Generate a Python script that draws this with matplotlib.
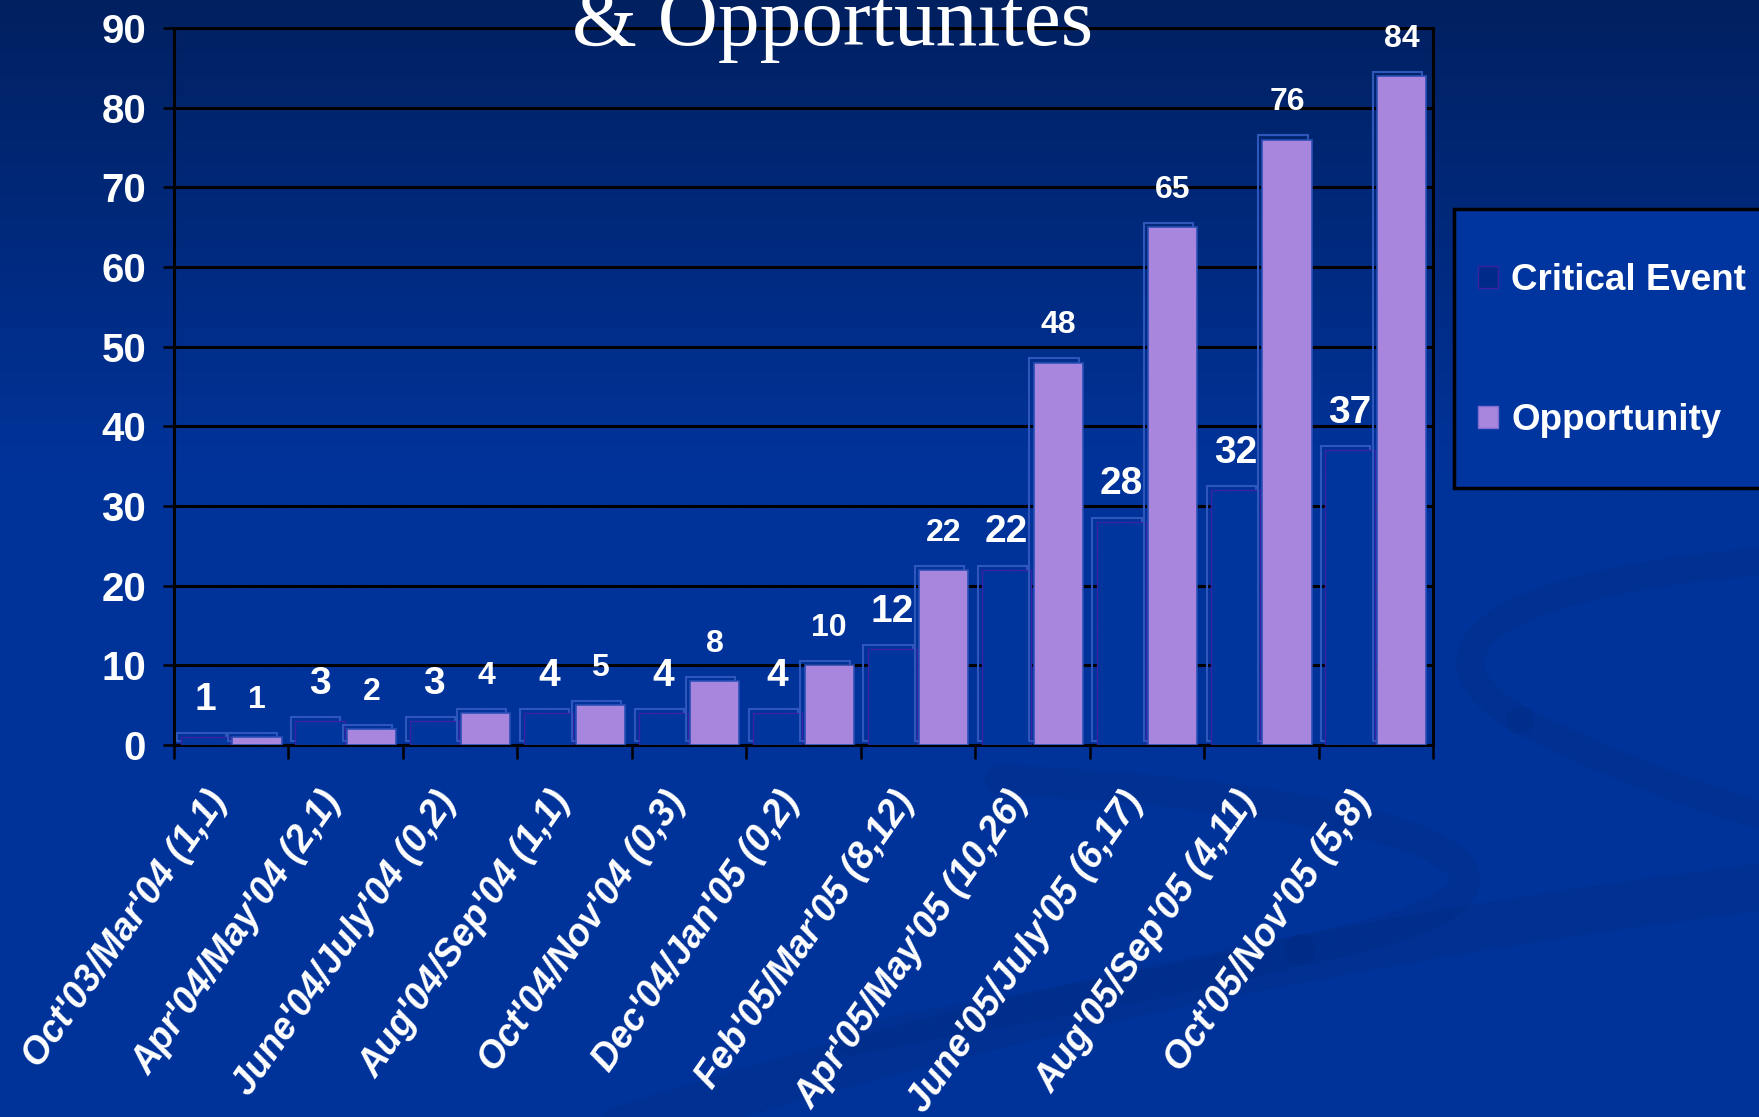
import numpy as np
import matplotlib
matplotlib.use("Agg")
import matplotlib.pyplot as plt
from matplotlib.patches import Patch, Rectangle, PathPatch
from matplotlib.path import Path
import matplotlib.patheffects as pe

# Données (cumul des événements critiques et opportunités)
periods = ["Oct'03/Mar'04 (1,1)", "Apr'04/May'04 (2,1)", "June'04/July'04 (0,2)",
           "Aug'04/Sep'04 (1,1)", "Oct'04/Nov'04 (0,3)", "Dec'04/Jan'05 (0,2)",
           "Feb'05/Mar'05 (8,12)", "Apr'05/May'05 (10,26)", "June'05/July'05 (6,17)",
           "Aug'05/Sep'05 (4,11)", "Oct'05/Nov'05 (5,8)"]
critical_event = [1, 3, 3, 4, 4, 4, 12, 22, 28, 32, 37]
opportunity = [1, 2, 4, 5, 8, 10, 22, 48, 65, 76, 84]
y_ticks = list(range(0, 91, 10))

OPP = '#a886dd'
SANS = ['Liberation Sans', 'DejaVu Sans']

W, H = 1759, 1117
fig = plt.figure(figsize=(W / 100, H / 100), dpi=100)

# Fond en dégradé + vagues décoratives
bg = fig.add_axes([0, 0, 1, 1], zorder=-10)
rows = np.linspace(0, 1, 400)
top = np.array([0, 32, 96]) / 255
mid = np.array([0, 51, 154]) / 255
t = np.clip(rows / 0.42, 0, 1)[:, None]
grad = top * (1 - t) + mid * t
bg.imshow(np.repeat(grad[:, None, :], 2, axis=1), aspect='auto',
          extent=[0, W, H, 0], interpolation='bilinear')
bg.set_xlim(0, W)
bg.set_ylim(H, 0)
bg.axis('off')

swoosh = '#002a80'
C = Path.CURVE4
curves = [
    # bande longue du bas
    ([(620, 1130), (1000, 1010), (1400, 930), (1780, 885)], 34),
    # boucle au centre-droit
    ([(1000, 780), (1450, 800), (1620, 890), (1300, 950)], 22),
    ([(1300, 950), (1150, 990), (1000, 1010), (850, 1040)], 22),
    # boucle au bord droit
    ([(1780, 560), (1500, 580), (1400, 650), (1520, 720)], 20),
    ([(1520, 720), (1600, 760), (1700, 800), (1780, 820)], 20),
]
for pts, lw in curves:
    bg.add_patch(PathPatch(Path(pts, [Path.MOVETO, C, C, C]), facecolor='none',
                           edgecolor=swoosh, linewidth=lw, alpha=0.3,
                           capstyle='round'))

# Graphique principal
ax = fig.add_axes([174 / W, 1 - 745 / H, (1433 - 174) / W, (745 - 28) / H])
ax.set_facecolor('none')

x = np.arange(len(periods))
w = 0.43
outline = [pe.PathPatchEffect(offset=(-3, 3), edgecolor='#2f57bb',
                              facecolor='none', linewidth=1.5), pe.Normal()]
bars_ce = ax.bar(x - 0.225, critical_event, w, color='#00359e',
                 edgecolor='#3a22a6', linewidth=1, zorder=3, label='Critical Event')
bars_op = ax.bar(x + 0.225, opportunity, w, color=OPP,
                 edgecolor='#2b4fb5', linewidth=1.2, zorder=3, label='Opportunity')
for b in list(bars_ce) + list(bars_op):
    b.set_path_effects(outline)

for xi, v in zip(x, critical_event):
    ax.annotate(str(v), (xi - 0.225, v), xytext=(0, 14), textcoords='offset points',
                ha='center', va='bottom', color='white', fontsize=28,
                fontweight='bold', family=SANS, zorder=5)
for xi, v in zip(x, opportunity):
    ax.annotate(str(v), (xi + 0.225, v), xytext=(0, 16), textcoords='offset points',
                ha='center', va='bottom', color='white', fontsize=23,
                fontweight='bold', family=SANS, zorder=5)

ax.set_xlim(-0.5, len(periods) - 0.5)
ax.set_ylim(0, 90)
ax.set_yticks(y_ticks)
ax.set_yticklabels([str(v) for v in y_ticks], color='white', fontsize=29,
                   fontweight='bold', family=SANS)
# étiquettes légèrement décalées à gauche du centre de la catégorie
ax.set_xticks(x - 0.1)
ax.set_xticklabels(periods, rotation=55, ha='right', va='center',
                   rotation_mode='anchor', color='white', fontsize=27,
                   fontweight='bold', fontstyle='italic', family=SANS)
ax.set_xticks(np.arange(-0.5, len(periods), 1), minor=True)
ax.tick_params(axis='x', which='major', length=0, pad=36)
ax.tick_params(axis='x', which='minor', length=10, width=1.8, color='black',
               direction='out')
ax.tick_params(axis='y', length=8, width=1.8, color='black', direction='out', pad=12)
ax.grid(axis='y', color='black', linewidth=2.2, zorder=1)
ax.set_axisbelow(True)
for s in ax.spines.values():
    s.set_color('black')
    s.set_linewidth(2.2)

# Titre (coupé en haut comme sur la diapo)
fig.text(833 / W, 1 - 45 / H, '& Opportunites', ha='center', va='baseline',
         color='white', fontsize=60, family=['Liberation Serif', 'DejaVu Serif'],
         zorder=20)

# Légende dans un cadre qui déborde à droite
fig.patches.append(Rectangle((1454 / W, 1 - 488 / H), 0.25, (488 - 209) / H,
                             transform=fig.transFigure, facecolor='#00349e',
                             edgecolor='black', linewidth=2.5, zorder=1))
handles = [Patch(facecolor='#002a8a', edgecolor='#3a22a6', label='Critical Event'),
           Patch(facecolor=OPP, edgecolor='#7e6cd0', label='Opportunity')]
leg = fig.legend(handles=handles, loc='upper left', bbox_to_anchor=(1478 / W, 1 - 263 / H),
                 frameon=False, borderpad=0, borderaxespad=0, labelspacing=2.85,
                 handlelength=0.55, handleheight=0.55, handletextpad=0.35,
                 prop={'family': SANS, 'weight': 'bold', 'size': 26.5})
for txt in leg.get_texts():
    txt.set_color('white')

fig.savefig('out.png', dpi=100)
